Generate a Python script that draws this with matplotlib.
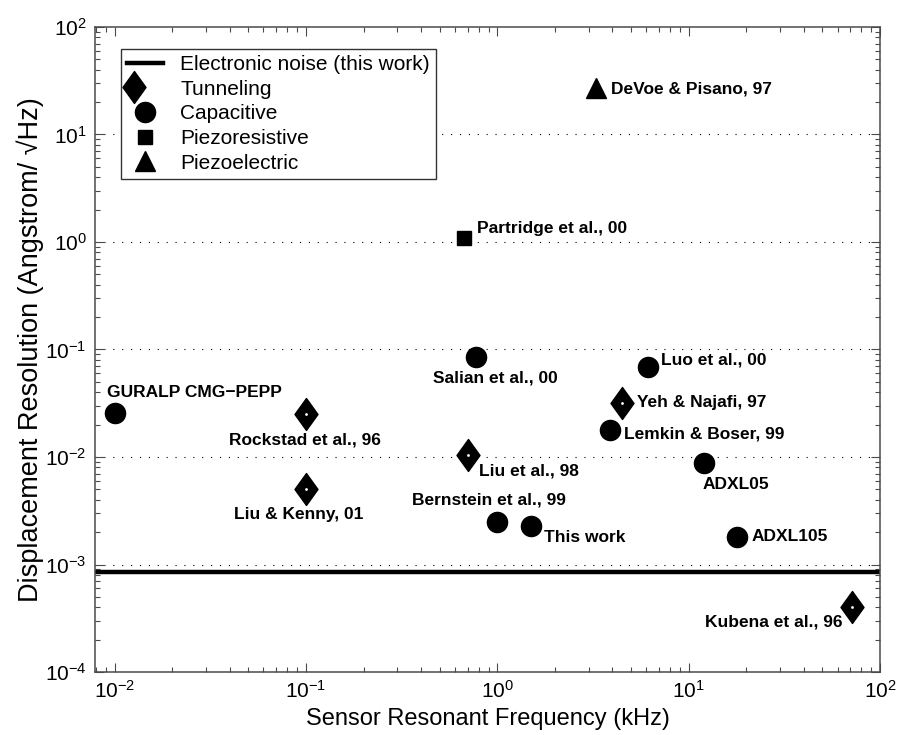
import numpy as np
import matplotlib
matplotlib.use("Agg")
import matplotlib.pyplot as plt
from matplotlib.path import Path
from matplotlib.legend_handler import HandlerTuple

plt.rcParams['font.family'] = ['Liberation Sans', 'DejaVu Sans']

# --- data (kHz, Angstrom/sqrt(Hz)) ---
tun_names = ['Rockstad et al., 96', 'Liu & Kenny, 01', 'Liu et al., 98', 'Yeh & Najafi, 97', 'Kubena et al., 96']
tun_freq = [0.1, 0.1, 0.70, 4.5, 71.0]
tun_res = [0.025, 0.005, 0.0104, 0.032, 0.0004]

cap_names = ['GURALP CMG\u2212PEPP', 'Salian et al., 00', 'Luo et al., 00', 'Lemkin & Boser, 99',
             'Bernstein et al., 99', 'This work', 'ADXL05', 'ADXL105']
cap_freq = [0.01, 0.77, 6.1, 3.9, 1.0, 1.5, 12.0, 18.0]
cap_res = [0.0257, 0.085, 0.069, 0.018, 0.0025, 0.0023, 0.0088, 0.0018]

pzr_names = ['Partridge et al., 00']
pzr_freq = [0.67]
pzr_res = [1.1]

pze_names = ['DeVoe & Pisano, 97']
pze_freq = [3.3]
pze_res = [27.0]

noise_level = 8.5e-4

# label placement: (dx, dy) in pixels, horizontal alignment
label_pos = {
    'Rockstad et al., 96': (-77, -26, 'left'),
    'Liu & Kenny, 01': (-72, -25, 'left'),
    'Liu et al., 98': (11, -16, 'left'),
    'Yeh & Najafi, 97': (15, 0, 'left'),
    'Kubena et al., 96': (-9, -15, 'right'),
    'GURALP CMG\u2212PEPP': (-8, 20, 'left'),
    'Salian et al., 00': (-43, -21, 'left'),
    'Luo et al., 00': (13, 7, 'left'),
    'Lemkin & Boser, 99': (14, -4, 'left'),
    'Bernstein et al., 99': (-85, 22, 'left'),
    'This work': (13, -12, 'left'),
    'ADXL05': (-1, -22, 'left'),
    'ADXL105': (14, 1, 'left'),
    'Partridge et al., 00': (13, 9, 'left'),
    'DeVoe & Pisano, 97': (15, -1, 'left'),
}

diamond = Path([(0, 1), (0.72, 0), (0, -1), (-0.72, 0), (0, 1)],
               [Path.MOVETO, Path.LINETO, Path.LINETO, Path.LINETO, Path.CLOSEPOLY])

fig = plt.figure(figsize=(9.07, 7.35), dpi=100)
ax = fig.add_axes([0.1047, 0.0857, 0.8655, 0.8776])
ax.set_xscale('log')
ax.set_yscale('log')
ax.set_xlim(0.0079, 100)
ax.set_ylim(1e-4, 1e2)

for y in [1e-3, 1e-2, 1e-1, 1e0, 1e1]:
    ax.axhline(y, color='black', lw=0.8, dashes=(1, 7), zorder=1)

h_noise = ax.axhline(noise_level, color='black', lw=3.2, zorder=2)

h_tun = ax.plot(tun_freq, tun_res, ls='none', marker=diamond, ms=23, color='black', zorder=3)[0]
h_dot = ax.plot(tun_freq, tun_res, ls='none', marker='o', ms=2, mfc='white', mec='none', zorder=4)[0]
h_cap = ax.plot(cap_freq, cap_res, ls='none', marker='o', ms=14.5, color='black', zorder=3)[0]
h_pzr = ax.plot(pzr_freq, pzr_res, ls='none', marker='s', ms=10.5, color='black', zorder=3)[0]
h_pze = ax.plot(pze_freq, pze_res, ls='none', marker='^', ms=15, color='black', zorder=3)[0]

for names, xs, ys in [(tun_names, tun_freq, tun_res), (cap_names, cap_freq, cap_res),
                      (pzr_names, pzr_freq, pzr_res), (pze_names, pze_freq, pze_res)]:
    for n, x, y in zip(names, xs, ys):
        dx, dy, ha = label_pos[n]
        ax.annotate(n, (x, y), xytext=(dx, dy), textcoords='offset pixels',
                    ha=ha, va='center', fontsize=12.5, fontweight='bold', zorder=5)

leg = ax.legend([h_noise, (h_tun, h_dot), h_cap, h_pzr, h_pze],
                ['Electronic noise (this work)', 'Tunneling', 'Capacitive', 'Piezoresistive', 'Piezoelectric'],
                handler_map={tuple: HandlerTuple(ndivide=None)},
                loc='upper left', bbox_to_anchor=(0.033, 0.966), borderaxespad=0,
                fontsize=15, fancybox=False, framealpha=1, edgecolor='#333333',
                handlelength=1.7, handletextpad=0.85, borderpad=0.3, labelspacing=0.27)
leg.get_frame().set_linewidth(1.0)

spine_col = '#4a4a4a'
for s in ax.spines.values():
    s.set_color(spine_col)
    s.set_linewidth(1.1)
ax.tick_params(which='both', direction='in', top=True, right=True, color=spine_col, labelsize=15)
ax.tick_params(which='major', length=6.5, width=0.8, pad=6)
ax.tick_params(which='minor', length=3.5, width=0.8)

ax.set_xlabel('Sensor Resonant Frequency (kHz)', fontsize=17, labelpad=4)
ax.set_ylabel('Displacement Resolution (Angstrom/ \u221aHz)', fontsize=19.5, labelpad=1)

fig.savefig('out.png', dpi=100)
